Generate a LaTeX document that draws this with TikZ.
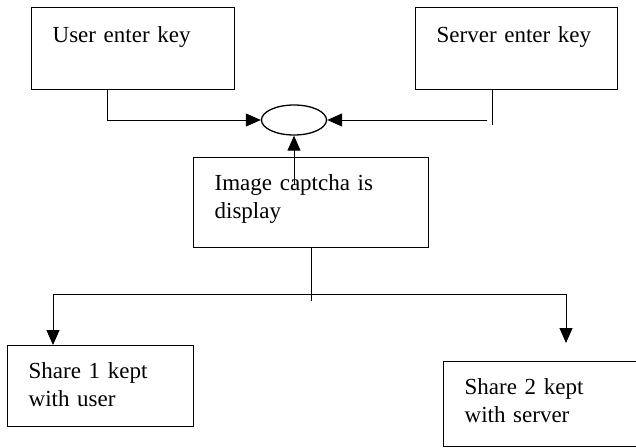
\documentclass[tikz,border=0pt]{standalone}
\usepackage{fontspec}
\setmainfont{Liberation Serif}
\usetikzlibrary{arrows.meta,shapes.geometric}
\tikzset{
  box/.style={draw,line width=1.3pt,anchor=north west,align=left,
    inner xsep=21pt,inner ysep=0pt,font=\fontsize{23}{28}\selectfont},
  link/.style={line width=1pt},
  flow/.style={link,-{Triangle[length=15pt,width=13pt]}},
}
\begin{document}
\begin{tikzpicture}[x=1pt,y=-1pt]
\pgfmathsetmacro{\topgap}{35}
\pgfmathsetmacro{\midgap}{33}
\useasboundingbox (0,0) rectangle (636,447);
  % the two key inputs
  \node[box,text width=161pt,text height=\topgap pt,text depth=47pt] (user) at (31,7) {User enter key};
  \node[box,text width=160pt,text height=\topgap pt,text depth=47pt] (server) at (415,7) {Server enter key};
  \node[draw,link,line width=1.3pt,ellipse,minimum width=65pt,minimum height=30pt,inner sep=0pt] (join) at (294,120) {};
  \node[box,text width=193pt,text height=\midgap pt,text depth=57pt] (captcha) at (193,157) {Image captcha is\\display};
  % the shares
  \node[box,text width=144pt,text height=\midgap pt,text depth=48pt] (share1) at (7,345) {Share 1 kept\\with user};
  \node[box,text width=178pt,text height=\midgap pt,text depth=52pt] (share2) at (443,361) {Share 2 kept\\with server};
  \coordinate (fork) at (310,294);
 \draw[flow] ([xshift=76pt]user.south west) |- (join.west);
 \draw[link] ([xshift=77pt]server.south west) -- ++(0,35) coordinate (srvend);
 \draw[flow] ([xshift=-5pt]srvend |- join.east) -- (join.east);
 \draw[flow] ([yshift=-28pt]captcha.north -| join.south) -- (join.south);
 \draw[link] (captcha.south) -- ++(0,53);
 \draw[flow] (fork) -| ([xshift=46pt]share1.north west);
 \draw[flow] (fork) -| ([xshift=123pt,yshift=18pt]share2.north west);
\end{tikzpicture}
\end{document}
